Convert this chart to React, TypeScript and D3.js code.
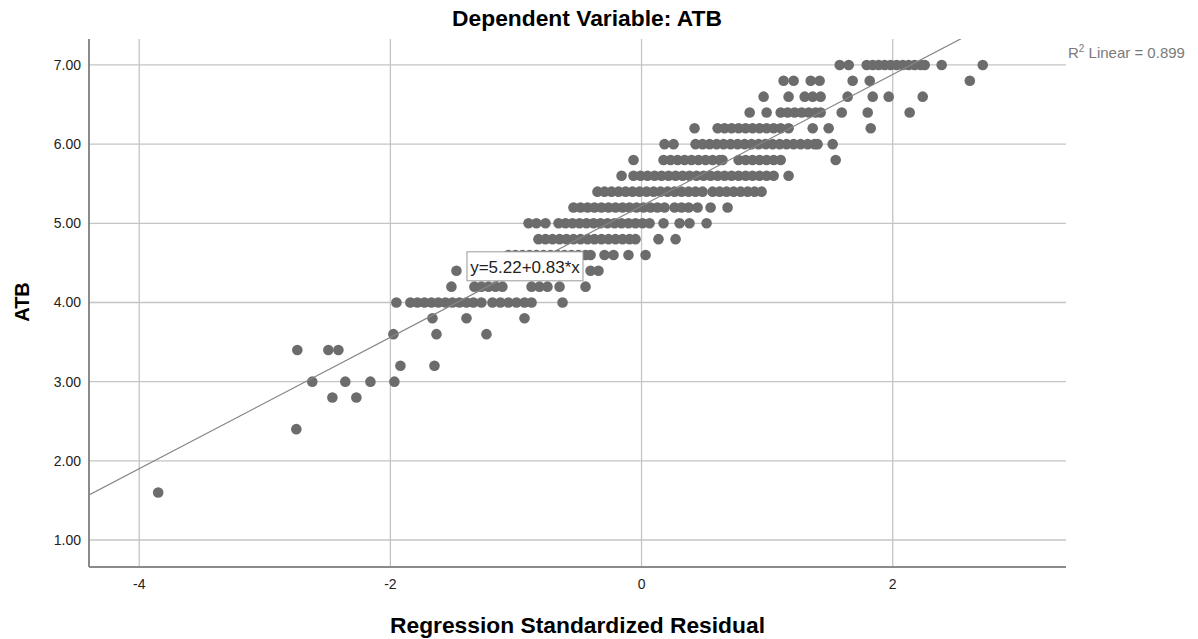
import { useEffect, useRef } from "react";
import * as d3 from "d3";

// ATB values (the dependent variable moves in steps of 0.2)
const atbLevels = [
  7.0, 6.8, 6.6, 6.4, 6.2, 6.0, 5.8, 5.6, 5.4, 5.2, 5.0, 4.8, 4.6, 4.4, 4.2,
  4.0, 3.8, 3.6, 3.4, 3.2, 3.0, 2.8, 2.4, 1.6,
];

// standardized residuals, one list per ATB level
const residualsByLevel = [
  [1.578, 1.65, 1.793, 1.841, 1.888, 1.936, 1.984, 2.032, 2.08, 2.127, 2.175, 2.223, 2.255, 2.39, 2.717],
  [1.131, 1.211, 1.347, 1.418, 1.681, 1.817, 2.614],
  [0.972, 1.171, 1.299, 1.363, 1.426, 1.641, 1.841, 1.968, 2.239],
  [0.861, 0.996, 1.108, 1.163, 1.219, 1.275, 1.331, 1.386, 1.426, 1.594, 1.801, 2.135],
  [0.422, 0.606, 0.661, 0.717, 0.773, 0.829, 0.884, 0.94, 0.996, 1.052, 1.108, 1.171, 1.363, 1.49, 1.825],
  [0.183, 0.255, 0.43, 0.486, 0.542, 0.598, 0.653, 0.709, 0.765, 0.821, 0.876, 0.932, 0.988, 1.044, 1.1, 1.155, 1.211, 1.267, 1.323, 1.378, 1.402, 1.522],
  [-0.064, 0.175, 0.231, 0.287, 0.343, 0.398, 0.454, 0.51, 0.566, 0.622, 0.645, 0.773, 0.829, 0.884, 0.94, 0.996, 1.052, 1.108, 1.546],
  [-0.159, -0.064, -0.008, 0.048, 0.104, 0.159, 0.215, 0.271, 0.327, 0.382, 0.438, 0.494, 0.55, 0.606, 0.661, 0.717, 0.773, 0.829, 0.884, 0.94, 0.996, 1.052, 1.171],
  [-0.351, -0.295, -0.239, -0.183, -0.127, -0.072, -0.016, 0.04, 0.096, 0.151, 0.207, 0.263, 0.319, 0.375, 0.43, 0.486, 0.566, 0.622, 0.677, 0.733, 0.789, 0.845, 0.9, 0.956],
  [-0.542, -0.486, -0.43, -0.375, -0.319, -0.263, -0.207, -0.151, -0.096, -0.04, 0.016, 0.072, 0.127, 0.183, 0.263, 0.319, 0.375, 0.446, 0.55, 0.685],
  [-0.9, -0.837, -0.765, -0.661, -0.606, -0.55, -0.494, -0.438, -0.382, -0.327, -0.271, -0.215, -0.159, -0.104, -0.048, 0.008, 0.064, 0.175, 0.303, 0.382, 0.518],
  [-0.821, -0.765, -0.709, -0.653, -0.598, -0.542, -0.486, -0.43, -0.375, -0.319, -0.263, -0.207, -0.151, -0.096, -0.048, 0.135, 0.271],
  [-1.06, -1.004, -0.948, -0.892, -0.837, -0.781, -0.725, -0.669, -0.614, -0.558, -0.502, -0.446, -0.406, -0.295, -0.223, -0.104, 0.032],
  [-1.474, -1.124, -0.964, -0.805, -0.645, -0.51, -0.406, -0.343],
  [-1.514, -1.331, -1.275, -1.219, -1.163, -1.108, -0.876, -0.813, -0.749, -0.653, -0.446],
  [-1.952, -1.841, -1.785, -1.729, -1.673, -1.618, -1.562, -1.506, -1.45, -1.394, -1.339, -1.275, -1.187, -1.124, -1.06, -0.996, -0.932, -0.876, -0.629],
  [-1.665, -1.394, -0.932],
  [-1.976, -1.633, -1.235],
  [-2.741, -2.494, -2.414],
  [-1.92, -1.649],
  [-2.622, -2.359, -2.159, -1.968],
  [-2.462, -2.271],
  [-2.749],
  [-3.849],
];

const xTicks = [-4, -2, 0, 2];
const yTicks = [1, 2, 3, 4, 5, 6, 7];
const intercept = 5.22;
const slope = 0.83;
const rSquared = 0.899;

const W = 1198;
const H = 639;
const FONT = "'Liberation Sans', Arial, sans-serif";

const App = () => {
  const svgRef = useRef<SVGSVGElement>(null);

  useEffect(() => {
    const svg = d3.select(svgRef.current);
    svg.selectAll("*").remove();

    const plot = { left: 89, right: 1066, top: 39, bottom: 567 };

    const xScale = d3.scaleLinear().domain([-4.4, 3.38]).range([plot.left, plot.right]);
    const yScale = d3.scaleLinear().domain([0.659, 7.328]).range([plot.bottom, plot.top]);

    const points = atbLevels.flatMap((atb, i) =>
      residualsByLevel[i].map((r) => ({ x: r, y: atb }))
    );

    svg
      .append("defs")
      .append("clipPath")
      .attr("id", "plot-clip")
      .append("rect")
      .attr("x", plot.left)
      .attr("y", plot.top)
      .attr("width", plot.right - plot.left)
      .attr("height", plot.bottom - plot.top);

    // grid
    svg
      .append("g")
      .selectAll("line")
      .data(yTicks)
      .enter()
      .append("line")
      .attr("x1", plot.left)
      .attr("x2", plot.right)
      .attr("y1", (d) => yScale(d))
      .attr("y2", (d) => yScale(d))
      .attr("stroke", "#c4c4c4")
      .attr("stroke-width", 1.3);

    svg
      .append("g")
      .selectAll("line")
      .data(xTicks)
      .enter()
      .append("line")
      .attr("x1", (d) => xScale(d))
      .attr("x2", (d) => xScale(d))
      .attr("y1", plot.top)
      .attr("y2", plot.bottom)
      .attr("stroke", "#c4c4c4")
      .attr("stroke-width", 1.3);

    // tick labels
    svg
      .append("g")
      .selectAll("text")
      .data(yTicks)
      .enter()
      .append("text")
      .attr("x", plot.left - 8)
      .attr("y", (d) => yScale(d) + 5)
      .attr("text-anchor", "end")
      .style("font-family", FONT)
      .style("font-size", "14px")
      .style("fill", "#222")
      .text((d) => d3.format(".2f")(d));

    svg
      .append("g")
      .selectAll("text")
      .data(xTicks)
      .enter()
      .append("text")
      .attr("x", (d) => xScale(d))
      .attr("y", plot.bottom + 22)
      .attr("text-anchor", "middle")
      .style("font-family", FONT)
      .style("font-size", "14px")
      .style("fill", "#222")
      .text((d) => String(d));

    // points
    svg
      .append("g")
      .selectAll("circle")
      .data(points)
      .enter()
      .append("circle")
      .attr("cx", (d) => xScale(d.x))
      .attr("cy", (d) => yScale(d.y))
      .attr("r", 5.3)
      .style("fill", "#6c6c6c");

    // fit line
    const line = d3
      .line<number>()
      .x((d) => xScale(d))
      .y((d) => yScale(intercept + slope * d));

    svg
      .append("path")
      .datum(xScale.domain())
      .attr("d", line)
      .attr("clip-path", "url(#plot-clip)")
      .attr("fill", "none")
      .attr("stroke", "#858585")
      .attr("stroke-width", 1.2);

    // axes
    svg
      .append("line")
      .attr("x1", plot.left)
      .attr("x2", plot.left)
      .attr("y1", plot.top)
      .attr("y2", plot.bottom)
      .attr("stroke", "#8a8a8a")
      .attr("stroke-width", 2);
    svg
      .append("line")
      .attr("x1", plot.left)
      .attr("x2", plot.right)
      .attr("y1", plot.bottom)
      .attr("y2", plot.bottom)
      .attr("stroke", "#8a8a8a")
      .attr("stroke-width", 2);

    // equation label
    const eq = svg.append("g").attr("transform", `translate(${xScale(-1.39)}, ${yScale(4.64)})`);
    eq.append("rect")
      .attr("width", 116)
      .attr("height", 29)
      .attr("fill", "white")
      .attr("stroke", "#9a9a9a")
      .attr("stroke-width", 1);
    eq.append("text")
      .attr("x", 58)
      .attr("y", 21)
      .attr("text-anchor", "middle")
      .style("font-family", FONT)
      .style("font-size", "17px")
      .style("fill", "#222")
      .text(`y=${intercept.toFixed(2)}+${slope.toFixed(2)}*x`);

    // R2 label
    const r2 = svg
      .append("text")
      .attr("x", plot.right + 2)
      .attr("y", 58)
      .style("font-family", FONT)
      .style("font-size", "15px")
      .style("fill", "#7a7a7a");
    r2.append("tspan").text("R");
    r2.append("tspan").attr("dy", -6).style("font-size", "10px").text("2");
    r2.append("tspan").attr("dy", 6).text(` Linear = ${rSquared.toFixed(3)}`);

    // titles
    svg
      .append("text")
      .attr("x", 587)
      .attr("y", 26)
      .attr("text-anchor", "middle")
      .style("font-family", FONT)
      .style("font-weight", "bold")
      .style("font-size", "22.8px")
      .text("Dependent Variable: ATB");

    svg
      .append("text")
      .attr("x", (plot.left + plot.right) / 2)
      .attr("y", 633)
      .attr("text-anchor", "middle")
      .style("font-family", FONT)
      .style("font-weight", "bold")
      .style("font-size", "22.8px")
      .text("Regression Standardized Residual");

    svg
      .append("text")
      .attr("transform", "rotate(-90)")
      .attr("x", -302)
      .attr("y", 29)
      .attr("text-anchor", "middle")
      .style("font-family", FONT)
      .style("font-weight", "bold")
      .style("font-size", "20px")
      .text("ATB");
  }, []);

  return (
    <svg
      ref={svgRef}
      width={W}
      height={H}
      viewBox={`0 0 ${W} ${H}`}
      style={{ position: "absolute", left: 0, top: 0, background: "white" }}
    ></svg>
  );
};

export default App;
